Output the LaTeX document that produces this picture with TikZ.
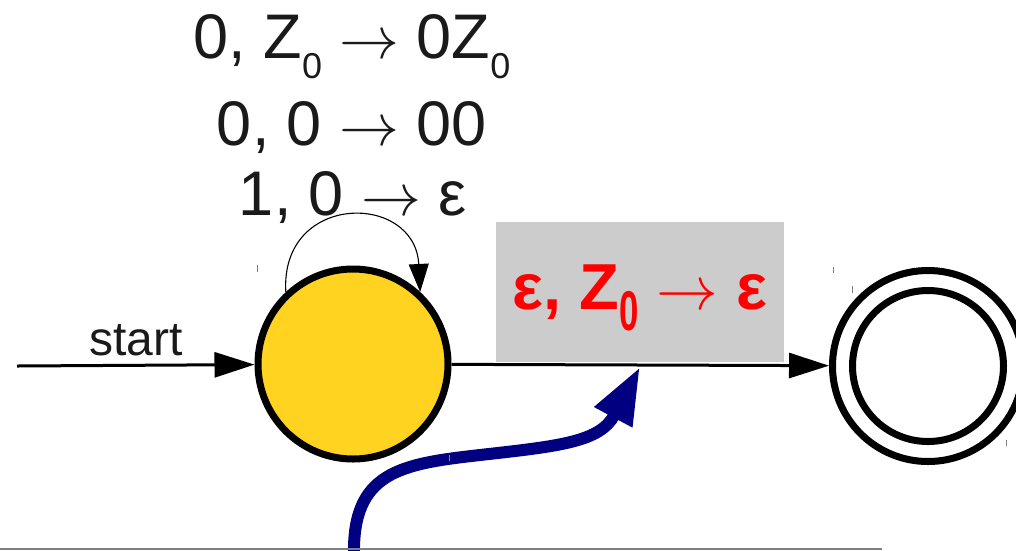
\documentclass[tikz,border=0pt]{standalone}
\usepackage{fontspec}
\setmainfont{Liberation Sans}
\usepackage{graphicx}
\usetikzlibrary{arrows.meta}
\definecolor{stateyellow}{HTML}{FFD320}
\definecolor{boxgray}{HTML}{CCCCCC}
\definecolor{navyblue}{HTML}{000080}
\definecolor{tickgray}{HTML}{808080}
\definecolor{textblack}{HTML}{1A1A1A}
\newcommand{\bsub}[1]{\raisebox{-20pt}{\fontsize{36}{36}\selectfont #1}}
\newcommand{\rsub}[1]{\raisebox{-21pt}{\scalebox{0.62}[1]{\fontsize{56}{56}\selectfont\bfseries #1}}}
\newcommand{\arr}{\resizebox{0.95em}{!}{$\rightarrow$}}
\begin{document}
\begin{tikzpicture}[x=1pt,y=-1pt,
  state/.style={circle, draw=black, line width=7pt, minimum size=190pt, inner sep=0pt},
  final/.style={circle, draw=black, fill=white, line width=7pt, minimum size=191pt, inner sep=0pt},
  trans/.style={line width=3pt, -{Triangle[length=40pt,width=25pt]}},
  looparrow/.style={line width=1.1pt, -{Triangle[length=28pt,width=20pt]}},
  stacklbl/.style={text=textblack, font=\fontsize{63}{70}\selectfont, inner sep=0pt, anchor=base},
  startlbl/.style={text=textblack, font=\fontsize{48}{52}\selectfont, inner sep=0pt, anchor=base},
  redlbl/.style={text=red, font=\fontsize{65}{70}\selectfont\bfseries, inner sep=0pt, anchor=base},
  graybox/.style={fill=boxgray, minimum width=288pt, minimum height=140pt, inner sep=0pt},
  pointer/.style={navyblue, line width=12pt, -{Triangle[length=57pt,width=40pt]}},
  tickmark/.style={tickgray, line width=0.8pt}
]
\useasboundingbox (0,0) rectangle (1016,550);

% gray label box
\node[graybox] (lblbox) at (640,292) {};
\node[redlbl] (lbl) at (640,309) {ε, Z\rsub{0} \arr{} ε};

% states
\node[state, fill=stateyellow] (q0) at (353,364) {};
\node[final] (qf) at (928,366) {};
\draw[line width=7pt] (qf.center) circle[radius=75.5pt];

% start arrow
\coordinate (s) at (17,366);
\draw[trans] (s) -- (q0);
\node[startlbl] (startl) at (136,355) {start};

% transition
\draw[trans] (q0) -- (qf);

% self loop
\draw[looparrow] (q0.133) .. controls (280,192) and (415,192) .. (q0.47);

% loop labels
\node[stacklbl] (l1) at (352,58) {0, Z\bsub{0} \arr{} 0Z\bsub{0}};
\node[stacklbl] (l2) at (352,145) {0, 0 \arr{} 00};
\node[stacklbl] (l3) at (353,215) {1, 0 \arr{} ε};

% blue pointer
\coordinate (bstart) at (354,556);
\coordinate (btip) at (640,367);
\draw[pointer] (bstart) .. controls (352,472) and (400,464) .. (480,455) .. controls (560,446) and (600,442) .. (btip);

% small tick marks
\draw[tickmark] (257,265) -- (257,272);
\draw[tickmark] (449,455) -- (449,461);
\draw[tickmark] (833,267) -- (833,273);
\draw[tickmark] (852,286) -- (852,293);
\draw[tickmark] (1006,440) -- (1006,446);

% bottom line
\draw[tickgray, line width=1.5pt] (0,549) -- (882,549);
\end{tikzpicture}
\end{document}
